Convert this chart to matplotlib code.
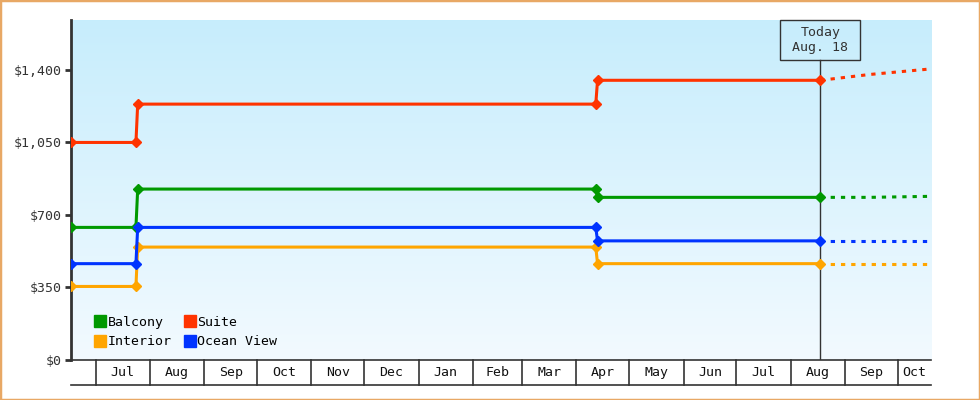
import datetime as dt
import numpy as np
import matplotlib
matplotlib.use('Agg')
import matplotlib.pyplot as plt
import matplotlib.dates as mdates
from matplotlib.lines import Line2D
from matplotlib.patches import Rectangle

# price history (step changes) and forecast after today
price_dates = ['2022-06-17', '2022-07-24', '2022-07-25', '2023-04-12', '2023-04-13', '2023-08-18']
balcony = [640, 640, 825, 825, 785, 785]
suite = [1050, 1050, 1235, 1235, 1350, 1350]
interior = [355, 355, 545, 545, 465, 465]
ocean_view = [465, 465, 640, 640, 575, 575]

forecast_dates = ['2023-08-18', '2023-09-15', '2023-10-20']
balcony_fc = [785, 785, 790]
suite_fc = [1350, 1378, 1405]
interior_fc = [465, 465, 465]
ocean_view_fc = [575, 575, 575]

today = '2023-08-18'
today_label = 'Today\nAug. 18'
x_start, x_end = '2022-06-17', '2023-10-20'
y_ticks = [0, 350, 700, 1050, 1400]
months = ['2022-07', '2022-08', '2022-09', '2022-10', '2022-11', '2022-12', '2023-01',
          '2023-02', '2023-03', '2023-04', '2023-05', '2023-06', '2023-07', '2023-08',
          '2023-09', '2023-10']

colors = {'Balcony': '#009900', 'Suite': '#ff3300', 'Interior': '#ffa500', 'Ocean View': '#0033ff'}
series = [('Balcony', balcony, balcony_fc), ('Interior', interior, interior_fc),
          ('Suite', suite, suite_fc), ('Ocean View', ocean_view, ocean_view_fc)]

plt.rcParams['font.family'] = ['DejaVu Sans Mono']
plt.rcParams['font.size'] = 9.5
dark = '#333333'


def d(s):
    return mdates.date2num(dt.datetime.strptime(s, '%Y-%m-%d'))


fig = plt.figure(figsize=(9.8, 4.0), dpi=100)
ax = fig.add_axes([71 / 980, 0.1, 860 / 980, 0.85])
fig.patches.append(Rectangle((0, 0), 1, 1, transform=fig.transFigure, fill=False,
                             ec='#e8a865', lw=2.5, zorder=10))

# gradient background
grad = np.linspace(0, 1, 256).reshape(-1, 1)
top = np.array([0.78, 0.93, 0.99])
bot = np.array([0.95, 0.98, 1.0])
img = top[None, None, :] * (1 - grad[:, :, None]) + bot[None, None, :] * grad[:, :, None]
ax.imshow(img, extent=[0, 1, 0, 1], transform=ax.transAxes, aspect='auto', zorder=0)

x0, x1 = d(x_start), d(x_end)
ax.set_xlim(x0, x1)
ax.set_ylim(0, 1641)

pd_num = [d(s) for s in price_dates]
fc_num = [d(s) for s in forecast_dates]
for name, vals, fc in series:
    c = colors[name]
    ax.plot(fc_num, fc, color=c, lw=2.2, ls=(0, (1.4, 1.95)), dash_capstyle='butt', zorder=3)
    ax.plot(pd_num, vals, color=c, lw=2.2, marker='D', ms=5, zorder=4)

# today marker: line up to a box at the top of the plot
t = d(today)
box_w = 80 / 860 * (x1 - x0)
box_y0 = 1641 * 300 / 340
ax.plot([t, t], [0, box_y0], color=dark, lw=1, zorder=2)
ax.add_patch(Rectangle((t - box_w / 2, box_y0), box_w, 1641 - box_y0, fill=False,
                       ec=dark, lw=1, zorder=5, clip_on=False))
ax.text(t, (box_y0 + 1641) / 2, today_label, ha='center', va='center', color=dark,
        linespacing=1.25, zorder=5)

# y axis
ax.set_yticks(y_ticks)
ax.set_yticklabels(['${:,}'.format(v) for v in y_ticks], color=dark)
ax.tick_params(axis='y', direction='out', length=4, width=2, color=dark, pad=3)
ax.set_xticks([])
for s in ['top', 'right']:
    ax.spines[s].set_visible(False)
ax.spines['left'].set_linewidth(2)
ax.spines['left'].set_color(dark)
ax.spines['bottom'].set_linewidth(1.2)
ax.spines['bottom'].set_color(dark)

# month boxes under the axis
box_h = 25 / 340
ax.plot([0, 1], [-box_h, -box_h], transform=ax.transAxes, color=dark, lw=1.2, clip_on=False)
bt = ax.get_xaxis_transform()
starts = [d(m + '-01') for m in months]
for i, m in enumerate(months):
    s = starts[i]
    e = starts[i + 1] if i + 1 < len(months) else x1
    e = min(e, x1)
    ax.plot([s, s], [0, -box_h], transform=bt, color=dark, lw=1.2, clip_on=False)
    label = dt.datetime.strptime(m, '%Y-%m').strftime('%b')
    ax.text((s + e) / 2, -box_h / 2, label, transform=bt, ha='center', va='center',
            color='#111111', clip_on=False)

handles = [Line2D([], [], marker='s', ls='', ms=8, color=colors[n]) for n, _, _ in series]
ax.legend(handles, [n for n, _, _ in series], ncol=2, loc='lower left',
          bbox_to_anchor=(0.014, 0.0), frameon=False, handlelength=0.8,
          handletextpad=0.15, columnspacing=1.0, labelspacing=0.5, fontsize=9.5)

fig.savefig('out.png', dpi=100)
